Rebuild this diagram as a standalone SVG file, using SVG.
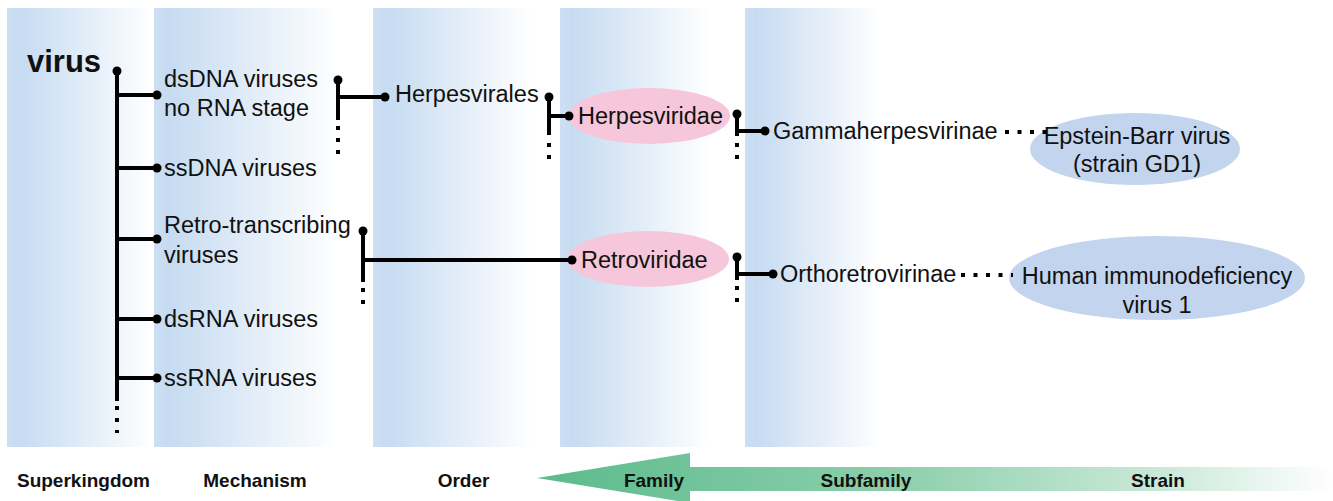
<svg xmlns="http://www.w3.org/2000/svg" width="1333" height="501" viewBox="0 0 1333 501">
<defs>
<linearGradient id="band" x1="0" y1="0" x2="1" y2="0">
<stop offset="0" stop-color="#cddff3"/>
<stop offset="0.08" stop-color="#c6dbf1"/>
<stop offset="1" stop-color="#ffffff"/>
</linearGradient>
<linearGradient id="arrowGrad" gradientUnits="userSpaceOnUse" x1="537" y1="0" x2="1333" y2="0">
<stop offset="0" stop-color="#5cbb8c"/>
<stop offset="0.45" stop-color="#8ccfab"/>
<stop offset="0.8" stop-color="#cdeadb"/>
<stop offset="1" stop-color="#ffffff"/>
</linearGradient>
<style>
.t{font-family:"Liberation Sans",Arial,sans-serif;font-size:23.5px;fill:#111}
.lab{font-family:"Liberation Sans",Arial,sans-serif;font-size:19px;font-weight:bold;fill:#111}
.ln{stroke:#000;stroke-width:4;fill:none}
.dt{stroke:#000;stroke-width:4;fill:none;stroke-dasharray:4 8}
.dh{stroke:#000;stroke-width:4;fill:none;stroke-dasharray:4 8.5}
.d{fill:#000}
.pink{fill:#f6c6da}
.blue{fill:#c3d5ee}
</style>
</defs>
<rect width="1333" height="501" fill="#ffffff"/>
<g id="bands">
<rect x="7" y="8" width="147" height="439" fill="url(#band)"/>
<rect x="154" y="8" width="185" height="439" fill="url(#band)"/>
<rect x="373" y="8" width="160" height="439" fill="url(#band)"/>
<rect x="560" y="8" width="150" height="439" fill="url(#band)"/>
<rect x="745" y="8" width="135" height="439" fill="url(#band)"/>
</g>
<g id="n-virus"><text x="27" y="72" font-family="Liberation Sans,Arial,sans-serif" font-size="31" font-weight="bold" fill="#111">virus</text></g>
<g id="n-dsdna"><text class="t" x="164" y="87">dsDNA viruses</text><text class="t" x="164" y="116">no RNA stage</text></g>
<g id="n-ssdna"><text class="t" x="164" y="176">ssDNA viruses</text></g>
<g id="n-retro"><text class="t" x="164" y="233">Retro-transcribing</text><text class="t" x="164" y="263">viruses</text></g>
<g id="n-dsrna"><text class="t" x="164" y="327">dsRNA viruses</text></g>
<g id="n-ssrna"><text class="t" x="164" y="386">ssRNA viruses</text></g>
<g id="n-herpesvirales"><text class="t" x="395" y="102">Herpesvirales</text></g>
<g id="n-herpesviridae"><ellipse class="pink" cx="649" cy="116" rx="81" ry="28"/><text class="t" x="578" y="124">Herpesviridae</text></g>
<g id="n-retroviridae"><ellipse class="pink" cx="648" cy="259" rx="81" ry="28"/><text class="t" x="581" y="268">Retroviridae</text></g>
<g id="n-gamma"><text class="t" x="773" y="139">Gammaherpesvirinae</text></g>
<g id="n-ortho"><text class="t" x="780" y="282">Orthoretrovirinae</text></g>
<g id="n-ebv"><ellipse class="blue" cx="1135" cy="149" rx="105" ry="36"/><text class="t" x="1137" y="144" text-anchor="middle">Epstein-Barr virus</text><text class="t" x="1137" y="172" text-anchor="middle">(strain GD1)</text></g>
<g id="n-hiv"><ellipse class="blue" cx="1157" cy="278" rx="148" ry="42"/><text class="t" x="1157" y="284" text-anchor="middle">Human immunodeficiency</text><text class="t" x="1157" y="313" text-anchor="middle">virus 1</text></g>
<g id="connectors">
<line class="ln" x1="117" y1="71" x2="117" y2="401"/>
<line class="dt" x1="117" y1="406" x2="117" y2="433"/>
<line class="ln" x1="117" y1="95" x2="157" y2="95"/>
<line class="ln" x1="117" y1="168" x2="157" y2="168"/>
<line class="ln" x1="117" y1="239" x2="157" y2="239"/>
<line class="ln" x1="117" y1="319" x2="157" y2="319"/>
<line class="ln" x1="117" y1="378" x2="157" y2="378"/>
<circle class="d" cx="117" cy="71" r="4.5"/>
<circle class="d" cx="157" cy="95" r="4.5"/>
<circle class="d" cx="157" cy="168" r="4.5"/>
<circle class="d" cx="157" cy="239" r="4.5"/>
<circle class="d" cx="157" cy="319" r="4.5"/>
<circle class="d" cx="157" cy="378" r="4.5"/>
<line class="ln" x1="338" y1="80" x2="338" y2="120"/>
<line class="dt" x1="338" y1="126" x2="338" y2="155"/>
<line class="ln" x1="338" y1="97" x2="385" y2="97"/>
<circle class="d" cx="338" cy="80" r="4.5"/>
<circle class="d" cx="385" cy="97" r="4.5"/>
<line class="ln" x1="549" y1="97" x2="549" y2="135"/>
<line class="dt" x1="549" y1="143" x2="549" y2="159"/>
<line class="ln" x1="549" y1="116" x2="569" y2="116"/>
<circle class="d" cx="549" cy="97" r="4.5"/>
<circle class="d" cx="569" cy="116" r="4.5"/>
<line class="ln" x1="363" y1="231" x2="363" y2="282"/>
<line class="dt" x1="363" y1="288" x2="363" y2="304"/>
<line class="ln" x1="363" y1="260" x2="572" y2="260"/>
<circle class="d" cx="363" cy="231" r="4.5"/>
<circle class="d" cx="572" cy="260" r="4.5"/>
<line class="ln" x1="737" y1="114" x2="737" y2="136"/>
<line class="dt" x1="737" y1="143" x2="737" y2="159"/>
<line class="ln" x1="737" y1="131" x2="765" y2="131"/>
<circle class="d" cx="737" cy="114" r="4.5"/>
<circle class="d" cx="765" cy="131" r="4.5"/>
<line class="ln" x1="737" y1="257" x2="737" y2="280"/>
<line class="dt" x1="737" y1="286" x2="737" y2="302"/>
<line class="ln" x1="737" y1="274" x2="773" y2="274"/>
<circle class="d" cx="737" cy="257" r="4.5"/>
<circle class="d" cx="773" cy="274" r="4.5"/>
<line class="dh" x1="1005" y1="132" x2="1048" y2="132"/>
<line class="dh" x1="961" y1="275" x2="1013" y2="275"/>
</g>
<g id="axis">
<polygon points="537,478 690,453 690,467 1333,467 1333,491 690,491 690,503" fill="url(#arrowGrad)"/>
<text class="lab" x="83.5" y="487" text-anchor="middle">Superkingdom</text>
<text class="lab" x="255" y="487" text-anchor="middle">Mechanism</text>
<text class="lab" x="463.5" y="487" text-anchor="middle">Order</text>
<text class="lab" x="654" y="487" text-anchor="middle">Family</text>
<text class="lab" x="866" y="487" text-anchor="middle">Subfamily</text>
<text class="lab" x="1158" y="487" text-anchor="middle">Strain</text>
</g>
</svg>
